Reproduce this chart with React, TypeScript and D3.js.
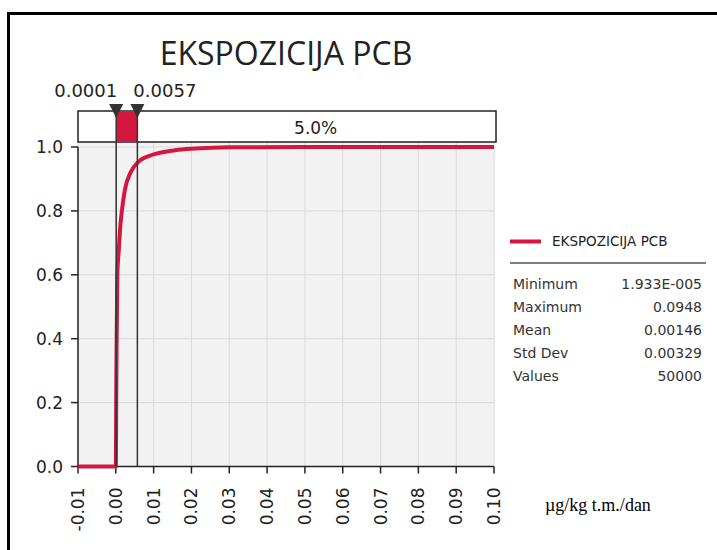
import React from "react";
import * as d3 from "d3";

const TITLE = "EKSPOZICIJA PCB";
const SERIES_NAME = "EKSPOZICIJA PCB";
const UNIT_LABEL = "\u00b5g/kg t.m./dan";

// cumulative distribution
const cdfX = [-0.01, 0.00002, 0.0001, 0.0002, 0.0004, 0.0008, 0.0011, 0.0016, 0.0024, 0.0039, 0.0061, 0.0095, 0.0157, 0.021, 0.03, 0.05, 0.0948, 0.1];
const cdfP = [0, 0, 0.2, 0.37, 0.6, 0.68, 0.74, 0.8, 0.866, 0.92, 0.955, 0.975, 0.99, 0.995, 0.999, 1.0, 1.0, 1.0];

const xTicks = [-0.01, 0, 0.01, 0.02, 0.03, 0.04, 0.05, 0.06, 0.07, 0.08, 0.09, 0.1];
const yTicks = [0, 0.2, 0.4, 0.6, 0.8, 1.0];

const markerValues = [0.0001, 0.0057];
const markerLabels = ["0.0001", "0.0057"];
const bandLabel = "5.0%";

const statNames = ["Minimum", "Maximum", "Mean", "Std Dev", "Values"];
const statValues = ["1.933E-005", "0.0948", "0.00146", "0.00329", "50000"];

const RED = "#d3173e";

export default function App() {
  const W = 717, H = 550;
  const x = d3.scaleLinear().domain([-0.01, 0.1]).range([78, 494]);
  const y = d3.scaleLinear().domain([0, 1]).range([466.5, 147]);
  const pts = cdfX.map((v, i) => [v, cdfP[i]] as [number, number]);
  const line = d3
    .line<[number, number]>()
    .x((d) => x(d[0]))
    .y((d) => y(d[1]))
    .curve(d3.curveMonotoneX);
  const fmtX = (v: number) => d3.format(".2f")(v).replace("\u2212", "-");
  const fmtY = d3.format(".1f");
  const plotL = x(-0.01), plotR = x(0.1);
  const boxTop = 111, boxBot = 142;
  const mx0 = x(markerValues[0]), mx1 = x(markerValues[1]);
  const tickFont = "'DejaVu Sans', Verdana, sans-serif";

  return (
    <svg width={W} height={H} style={{ position: "absolute", left: 0, top: 0, background: "#fff" }}>
      {/* frame */}
      <line x1={7} x2={W} y1={13.5} y2={13.5} stroke="#000" strokeWidth={3} />
      <line x1={8.5} x2={8.5} y1={12} y2={H} stroke="#000" strokeWidth={3} />

      {/* title */}
      <text x={(plotL + plotR) / 2} y={65} textAnchor="middle" fontFamily="'Open Sans', sans-serif" fontSize={32} fill="#222">
        {TITLE}
      </text>

      {/* plot background */}
      <rect x={plotL} y={boxBot} width={plotR - plotL} height={y(0) - boxBot} fill="#f2f2f2" />

      {/* grid */}
      {xTicks.map((t) => (
        <line key={"gx" + t} x1={x(t)} x2={x(t)} y1={boxBot} y2={y(0)} stroke="#d9d9d9" strokeWidth={1} />
      ))}
      {yTicks.map((t) => (
        <line key={"gy" + t} x1={plotL} x2={plotR} y1={y(t)} y2={y(t)} stroke="#d9d9d9" strokeWidth={1} />
      ))}

      {/* axes */}
      <line x1={plotL} x2={plotL} y1={y(1)} y2={y(0)} stroke="#222" strokeWidth={1.5} />
      <line x1={plotL} x2={plotR} y1={y(0)} y2={y(0)} stroke="#222" strokeWidth={1.5} />
      {yTicks.map((t) => (
        <g key={"yt" + t}>
          <line x1={plotL - 7} x2={plotL} y1={y(t)} y2={y(t)} stroke="#222" strokeWidth={1.5} />
          <text x={plotL - 15} y={y(t) + 6} textAnchor="end" fontFamily={tickFont} fontSize={17} fill="#222">
            {fmtY(t)}
          </text>
        </g>
      ))}
      {xTicks.map((t) => (
        <g key={"xt" + t}>
          <line x1={x(t)} x2={x(t)} y1={y(0)} y2={y(0) + 7} stroke="#222" strokeWidth={1.5} />
          <text
            transform={`translate(${x(t) + 6},${y(0) + 21}) rotate(-90)`}
            textAnchor="end"
            fontFamily={tickFont}
            fontSize={17}
            fill="#222"
          >
            {fmtX(t)}
          </text>
        </g>
      ))}

      {/* curve */}
      <path d={line(pts) || ""} fill="none" stroke={RED} strokeWidth={4} strokeLinejoin="round" />

      {/* percent band box */}
      <rect x={plotL} y={boxTop} width={x(0.1) + 2 - plotL} height={boxBot - boxTop} fill="#fff" stroke="#222" strokeWidth={1.5} />
      <rect x={mx0} y={boxTop + 1} width={mx1 - mx0} height={boxBot - boxTop - 1.5} fill={RED} />
      <text x={(mx1 + plotR) / 2} y={boxBot - 8} textAnchor="middle" fontFamily={tickFont} fontSize={17} fill="#222">
        {bandLabel}
      </text>

      {/* markers */}
      {markerValues.map((v, i) => (
        <g key={"m" + i}>
          <line x1={x(v)} x2={x(v)} y1={boxTop} y2={y(0)} stroke="#333" strokeWidth={1.5} />
          <path
            d={`M${x(v) - 7},${104} L${x(v) + 7},${104} L${x(v)},${118} Z`}
            fill="#333"
          />
          <text
            x={i === 0 ? x(v) + 1 : x(v) - 4}
            y={97}
            textAnchor={i === 0 ? "end" : "start"}
            fontFamily={tickFont}
            fontSize={18}
            fill="#222"
          >
            {markerLabels[i]}
          </text>
        </g>
      ))}

      {/* legend */}
      <line x1={510} x2={541} y1={241.5} y2={241.5} stroke={RED} strokeWidth={4} />
      <text x={552} y={246} fontFamily={tickFont} fontSize={13.5} fill="#222">
        {SERIES_NAME}
      </text>
      <line x1={510} x2={706} y1={263} y2={263} stroke="#555" strokeWidth={1.5} />
      {statNames.map((n, i) => (
        <g key={"s" + i}>
          <text x={513} y={289 + i * 23} fontFamily={tickFont} fontSize={14} fill="#333">
            {n}
          </text>
          <text x={702} y={289 + i * 23} textAnchor="end" fontFamily={tickFont} fontSize={14} fill="#333">
            {statValues[i]}
          </text>
        </g>
      ))}

      {/* unit label */}
      <text x={545} y={511} fontFamily="'Liberation Serif', 'Times New Roman', serif" fontSize={18} fill="#000">
        {UNIT_LABEL}
      </text>
    </svg>
  );
}
